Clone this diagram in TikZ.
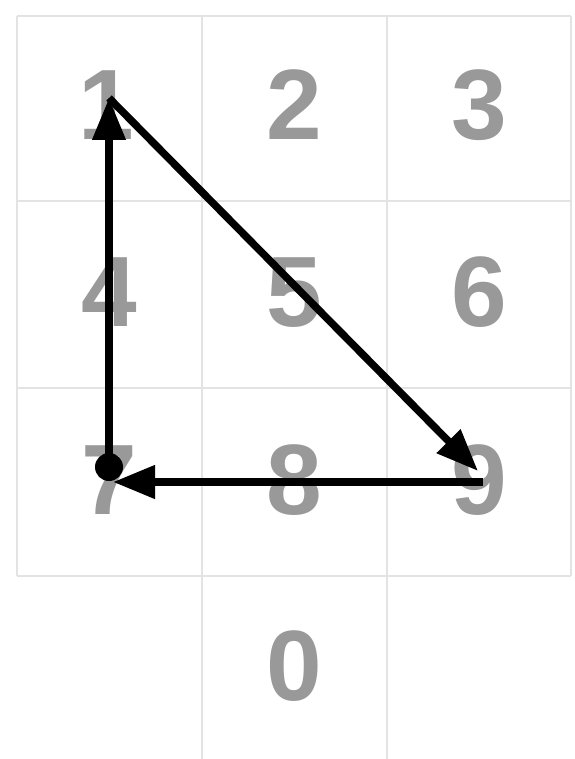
\documentclass[tikz,border=0pt]{standalone}
\usepackage{fontspec}
\setmainfont{Liberation Sans}
\usetikzlibrary{arrows.meta}
\definecolor{gridc}{HTML}{E3E3E3}
\definecolor{digitc}{HTML}{999999}
\begin{document}
\begin{tikzpicture}[x=1pt,y=-1pt,
  gridline/.style={draw=gridc,line width=2.5pt},
  digit/.style={anchor=base,inner sep=0pt,text=digitc,font=\fontsize{100}{100}\selectfont\bfseries},
  link/.style={draw=black,line width=7.5pt,-{Triangle[length=42pt,width=32pt]}}]
\useasboundingbox (0,0) rectangle (574,759);
% grid
\foreach \y in {16,201,388,576} \draw[gridline] (17,\y) -- (571,\y);
\foreach \x in {17,571} \draw[gridline] (\x,16) -- (\x,576);
\foreach \x in {202,387} \draw[gridline] (\x,16) -- (\x,759);
% digits
\node[digit] (d1) at (106,140) {1};
\node[digit] (d2) at (294,140) {2};
\node[digit] (d3) at (479,140) {3};
\node[digit] (d4) at (109,326) {4};
\node[digit] (d5) at (294,326) {5};
\node[digit] (d6) at (479,326) {6};
\node[digit] (d7) at (109,514) {7};
\node[digit] (d8) at (294,514) {8};
\node[digit] (d9) at (479,514) {9};
\node[digit] (d0) at (294,700) {0};
% path points
\coordinate (c7) at (109,467);
\coordinate (c1) at (109,98);
\coordinate (c9a) at (478,471);
\coordinate (c9) at (483,482);
\coordinate (c7a) at (113,482);
% connectors
\draw[link] (c7) -- (c1);
\draw[link] (c1) -- (c9a);
\draw[link] (c9) -- (c7a);
\fill (c7) circle (14);
\end{tikzpicture}
\end{document}
